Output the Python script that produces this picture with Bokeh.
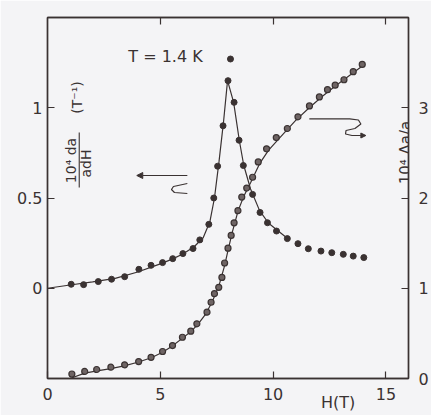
import math
from bokeh.plotting import figure
from bokeh.models import Range1d, LinearAxis, FixedTicker, Label, Arrow, NormalHead
from bokeh.embed import file_html
from bokeh.resources import INLINE

# ---------------- data ----------------
# series 1: 10^4 da/adH (T^-1), left axis, filled dots
dadh_H = [1.05, 1.6, 2.25, 2.84, 3.42, 4.05, 4.59, 5.1, 5.55, 6.0, 6.45, 6.75,
          7.15, 7.37, 7.54, 7.78, 8.0, 8.11, 8.27, 8.49, 8.68, 9.09, 9.42, 9.75,
          10.15, 10.63, 11.1, 11.56, 12.12, 12.6, 13.11, 13.55, 14.02]
dadh_val = [0.022, 0.02, 0.037, 0.05, 0.064, 0.105, 0.127, 0.142, 0.164, 0.192, 0.22, 0.268,
            0.354, 0.50, 0.676, 0.90, 1.15, 1.27, 1.03, 0.82, 0.68, 0.52, 0.42, 0.363,
            0.317, 0.275, 0.247, 0.219, 0.206, 0.197, 0.188, 0.178, 0.170]
# fitted curve for series 1
fit1_H = [0.0, 1.0, 2.0, 3.0, 4.0, 5.0, 5.5, 6.0, 6.5, 6.9, 7.2, 7.4, 7.6, 7.8, 7.98,
          8.25, 8.5, 8.7, 9.0, 9.4, 9.8, 10.2, 10.6]
fit1_val = [0.0, 0.018, 0.035, 0.055, 0.09, 0.135, 0.16, 0.19, 0.23, 0.28, 0.37, 0.5, 0.7, 0.92, 1.15,
            1.03, 0.82, 0.68, 0.55, 0.43, 0.36, 0.32, 0.28]

# series 2: 10^4 delta a / a, right axis, circles
da_H = [1.08, 1.65, 2.18, 2.81, 3.42, 4.04, 4.59, 5.1, 5.54, 5.98, 6.35, 6.62, 7.07,
        7.25, 7.4, 7.59, 7.73, 7.85, 8.0, 8.14, 8.27, 8.44, 8.61, 8.83, 9.09, 9.34,
        9.71, 10.14, 10.63, 11.1, 11.61, 12.05, 12.41, 12.75, 13.14, 13.55, 13.95]
da_val = [0.05, 0.078, 0.10, 0.125, 0.151, 0.188, 0.235, 0.299, 0.365, 0.457, 0.524, 0.606, 0.735,
          0.845, 0.94, 1.01, 1.12, 1.28, 1.444, 1.585, 1.725, 1.86, 2.01, 2.11, 2.23, 2.40,
          2.545, 2.67, 2.77, 2.90, 3.02, 3.12, 3.20, 3.25, 3.31, 3.40, 3.48]
fit2_H = [1.0, 1.65, 2.2, 2.8, 3.4, 4.0, 4.6, 5.1, 5.5, 6.0, 6.4, 6.7, 7.0, 7.3, 7.6, 7.85,
          8.0, 8.2, 8.45, 8.7, 9.0, 9.4, 9.8, 10.3, 11.0, 11.6, 12.2, 12.8, 13.4, 14.0]
fit2_val = [0.0, 0.06, 0.085, 0.11, 0.14, 0.18, 0.23, 0.29, 0.355, 0.45, 0.53, 0.61, 0.71, 0.85,
            1.03, 1.25, 1.42, 1.63, 1.86, 2.02, 2.17, 2.38, 2.53, 2.67, 2.86, 3.0, 3.13, 3.25, 3.36, 3.47]

x_ticks = [0, 5, 10, 15]
left_ticks = [0, 0.5, 1]
left_tick_labels = ["0", "0.5", "1"]
right_ticks = [0, 1, 2, 3]
x_title = "H(T)"
x_title_at = 12.88

# ---------------- styling ----------------
BG = "#f4f4f6"
INK = "#3a3232"
FONT = "DejaVu Sans"

p = figure(width=431, height=415, output_backend="svg", toolbar_location=None,
           x_range=Range1d(0, 16), y_range=Range1d(-0.5, 1.5),
           min_border_left=47, min_border_right=20, min_border_top=17, min_border_bottom=37,
           background_fill_color=BG, border_fill_color=BG)
p.grid.visible = False
p.outline_line_color = INK
p.outline_line_width = 1.4
p.extra_y_ranges = {"right": Range1d(0, 4)}
p.extra_x_ranges = {"htitle": Range1d(0, 16)}


def style_axis(ax, size="16px"):
    ax.major_tick_in = 7
    ax.major_tick_out = 0
    ax.minor_tick_line_color = None
    ax.axis_line_color = INK
    ax.axis_line_width = 1.4
    ax.major_tick_line_color = INK
    ax.major_tick_line_width = 1.2
    ax.major_label_text_font = FONT
    ax.major_label_text_font_size = size
    ax.major_label_text_color = INK


xa = p.xaxis[0]
xa.ticker = FixedTicker(ticks=x_ticks)
style_axis(xa)
xa.major_label_standoff = 9

ya = p.yaxis[0]
ya.ticker = FixedTicker(ticks=left_ticks)
ya.major_label_overrides = {t: s for t, s in zip(left_ticks, left_tick_labels)}
style_axis(ya)
ya.major_label_standoff = 5

ra = LinearAxis(y_range_name="right", ticker=FixedTicker(ticks=right_ticks))
style_axis(ra)
ra.major_label_standoff = 10
p.add_layout(ra, "right")

ta = LinearAxis(ticker=FixedTicker(ticks=[5, 10, 15]))
style_axis(ta)
ta.major_label_text_color = None
ta.major_label_standoff = 0
p.add_layout(ta, "above")

# x-axis title "H(T)" sits right of centre, just under the tick labels
ha = LinearAxis(x_range_name="htitle", ticker=FixedTicker(ticks=[x_title_at]))
style_axis(ha)
ha.major_label_overrides = {x_title_at: x_title}
ha.axis_line_color = None
ha.major_tick_line_color = None
ha.major_tick_in = 0
ha.major_label_standoff = -10
p.add_layout(ha, "below")

# curves
p.line(fit1_H, fit1_val, line_color=INK, line_width=1.2)
p.line(fit2_H, fit2_val, line_color=INK, line_width=1.2, y_range_name="right")
p.scatter(dadh_H, dadh_val, marker="circle", size=6, fill_color=INK, line_color=INK)
p.scatter(da_H, da_val, marker="circle", size=6, fill_color="#6e6464", line_color=INK,
          line_width=1.2, y_range_name="right")


# ---------------- annotations (page pixel -> data helpers) ----------------
def dx(px):
    return (px - 47) / 364 * 16


def dy(py):
    return 1.5 - (py - 17) / 361 * 2


def lab(text, px, py, size, angle=0.0):
    p.add_layout(Label(x=dx(px), y=dy(py), text=text, angle=angle,
                       text_align="center", text_baseline="middle",
                       text_font=FONT, text_font_size=size, text_color=INK))


lab("T = 1.4 K", 166, 56, "16px")
lab("10\u2074 da", 71, 160, "14px", math.pi / 2)
lab("adH", 86, 163, "14px", math.pi / 2)
lab("(T\u207b\u00b9)", 77, 97, "14px", math.pi / 2)
p.line([dx(79), dx(79)], [dy(132), dy(187)], line_color=INK, line_width=1.1)
lab("10\u2074 \u0394a/a", 408, 152, "15px", math.pi / 2)

# left arrow with squiggle
p.add_layout(Arrow(end=NormalHead(size=6, fill_color=INK, line_color=INK),
                   x_start=dx(188), y_start=dy(175), x_end=dx(137), y_end=dy(175),
                   line_color=INK, line_width=1.2))
sq1x = [188, 174, 172, 175, 188]
sq1y = [183, 186, 189, 192, 193]
p.line([dx(v) for v in sq1x], [dy(v) for v in sq1y], line_color=INK, line_width=1.2)

# right arrow with squiggle
sq2x = [311, 351.7, 360.5, 363, 357, 348, 347.5, 354, 360]
sq2y = [118.3, 118.3, 119.5, 123.5, 128, 130, 133.5, 135, 135]
p.line([dx(v) for v in sq2x], [dy(v) for v in sq2y], line_color=INK, line_width=1.2)
p.add_layout(Arrow(end=NormalHead(size=5, fill_color=INK, line_color=INK),
                   x_start=dx(358), y_start=dy(135), x_end=dx(368), y_end=dy(135),
                   line_color=INK, line_width=1.2))

open("out.html", "w").write(file_html(p, INLINE))
